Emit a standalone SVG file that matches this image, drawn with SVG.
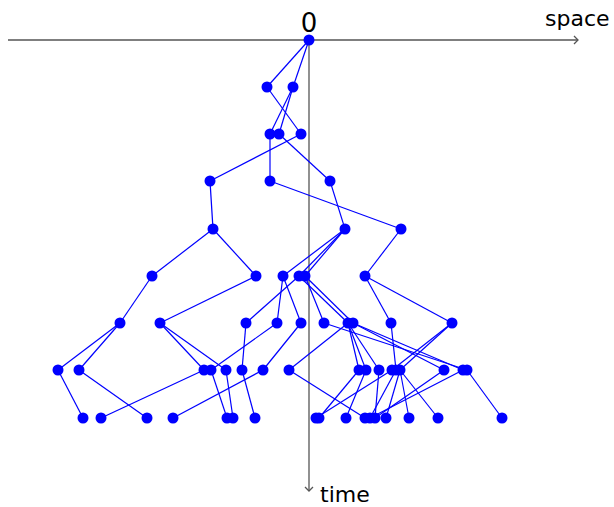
<svg xmlns="http://www.w3.org/2000/svg" width="614" height="507" viewBox="0 0 614 507">
<style>
.ax{stroke:#555;stroke-width:1.3;fill:none}
.e line{stroke:#0000ff;stroke-width:1.2}
.n circle{fill:#0000ff}
text{font-family:"DejaVu Sans","Liberation Sans",sans-serif;fill:#000}
</style>
<rect width="614" height="507" fill="#fff"/>
<g id="axes">
<line class="ax" x1="8" y1="40" x2="578" y2="40"/>
<path class="ax" d="M574,36 L578,40 L574,44"/>
<line class="ax" x1="309" y1="40" x2="309" y2="491"/>
<path class="ax" d="M305,487 L309,491 L313,487"/>
<text x="309" y="32" font-size="26" text-anchor="middle">0</text>
<text x="545" y="26" font-size="22">space</text>
<text x="320" y="502" font-size="22">time</text>
</g>
<g id="connectors" class="e">
<line x1="309" y1="40" x2="267" y2="87"/>
<line x1="309" y1="40" x2="293" y2="87"/>
<line x1="267" y1="87" x2="301" y2="134"/>
<line x1="293" y1="87" x2="270" y2="134"/>
<line x1="293" y1="87" x2="279" y2="134"/>
<line x1="301" y1="134" x2="210" y2="181"/>
<line x1="270" y1="134" x2="270" y2="181"/>
<line x1="279" y1="134" x2="330" y2="181"/>
<line x1="210" y1="181" x2="213" y2="229"/>
<line x1="270" y1="181" x2="401" y2="229"/>
<line x1="330" y1="181" x2="345" y2="229"/>
<line x1="213" y1="229" x2="152" y2="276"/>
<line x1="213" y1="229" x2="256" y2="276"/>
<line x1="345" y1="229" x2="283" y2="276"/>
<line x1="345" y1="229" x2="299" y2="276"/>
<line x1="345" y1="229" x2="305" y2="276"/>
<line x1="401" y1="229" x2="365" y2="276"/>
<line x1="152" y1="276" x2="120" y2="323"/>
<line x1="256" y1="276" x2="160" y2="323"/>
<line x1="283" y1="276" x2="277" y2="323"/>
<line x1="283" y1="276" x2="301" y2="323"/>
<line x1="299" y1="276" x2="246" y2="323"/>
<line x1="299" y1="276" x2="348" y2="323"/>
<line x1="305" y1="276" x2="324" y2="323"/>
<line x1="305" y1="276" x2="353" y2="323"/>
<line x1="365" y1="276" x2="391" y2="323"/>
<line x1="365" y1="276" x2="452" y2="323"/>
<line x1="120" y1="323" x2="58" y2="370"/>
<line x1="120" y1="323" x2="79" y2="370"/>
<line x1="160" y1="323" x2="204" y2="370"/>
<line x1="160" y1="323" x2="226" y2="370"/>
<line x1="277" y1="323" x2="211" y2="370"/>
<line x1="246" y1="323" x2="242" y2="370"/>
<line x1="301" y1="323" x2="263" y2="370"/>
<line x1="348" y1="323" x2="289" y2="370"/>
<line x1="348" y1="323" x2="359" y2="370"/>
<line x1="348" y1="323" x2="366" y2="370"/>
<line x1="348" y1="323" x2="379" y2="370"/>
<line x1="353" y1="323" x2="444" y2="370"/>
<line x1="353" y1="323" x2="463" y2="370"/>
<line x1="324" y1="323" x2="467" y2="370"/>
<line x1="391" y1="323" x2="396" y2="370"/>
<line x1="452" y1="323" x2="392" y2="370"/>
<line x1="452" y1="323" x2="400" y2="370"/>
<line x1="58" y1="370" x2="83" y2="418"/>
<line x1="79" y1="370" x2="147" y2="418"/>
<line x1="204" y1="370" x2="101" y2="418"/>
<line x1="211" y1="370" x2="227" y2="418"/>
<line x1="226" y1="370" x2="233" y2="418"/>
<line x1="242" y1="370" x2="255" y2="418"/>
<line x1="263" y1="370" x2="173" y2="418"/>
<line x1="289" y1="370" x2="365" y2="418"/>
<line x1="359" y1="370" x2="319" y2="418"/>
<line x1="366" y1="370" x2="346" y2="418"/>
<line x1="379" y1="370" x2="375" y2="418"/>
<line x1="392" y1="370" x2="316" y2="418"/>
<line x1="396" y1="370" x2="370" y2="418"/>
<line x1="400" y1="370" x2="386" y2="418"/>
<line x1="400" y1="370" x2="409" y2="418"/>
<line x1="400" y1="370" x2="438" y2="418"/>
<line x1="444" y1="370" x2="375" y2="418"/>
<line x1="463" y1="370" x2="370" y2="418"/>
<line x1="467" y1="370" x2="502" y2="418"/>
</g>
<g class="n">
<g id="n0"><circle cx="309" cy="40" r="5.5"/></g>
<g id="n1a"><circle cx="267" cy="87" r="5.5"/></g>
<g id="n1b"><circle cx="293" cy="87" r="5.5"/></g>
<g id="n2a"><circle cx="270" cy="134" r="5.5"/></g>
<g id="n2b"><circle cx="279" cy="134" r="5.5"/></g>
<g id="n2c"><circle cx="301" cy="134" r="5.5"/></g>
<g id="n3a"><circle cx="210" cy="181" r="5.5"/></g>
<g id="n3b"><circle cx="270" cy="181" r="5.5"/></g>
<g id="n3c"><circle cx="330" cy="181" r="5.5"/></g>
<g id="n4a"><circle cx="213" cy="229" r="5.5"/></g>
<g id="n4b"><circle cx="345" cy="229" r="5.5"/></g>
<g id="n4c"><circle cx="401" cy="229" r="5.5"/></g>
<g id="n5a"><circle cx="152" cy="276" r="5.5"/></g>
<g id="n5b"><circle cx="256" cy="276" r="5.5"/></g>
<g id="n5c"><circle cx="283" cy="276" r="5.5"/></g>
<g id="n5d"><circle cx="299" cy="276" r="5.5"/></g>
<g id="n5e"><circle cx="305" cy="276" r="5.5"/></g>
<g id="n5f"><circle cx="365" cy="276" r="5.5"/></g>
<g id="n6a"><circle cx="120" cy="323" r="5.5"/></g>
<g id="n6b"><circle cx="160" cy="323" r="5.5"/></g>
<g id="n6c"><circle cx="246" cy="323" r="5.5"/></g>
<g id="n6d"><circle cx="277" cy="323" r="5.5"/></g>
<g id="n6e"><circle cx="301" cy="323" r="5.5"/></g>
<g id="n6f"><circle cx="324" cy="323" r="5.5"/></g>
<g id="n6g"><circle cx="348" cy="323" r="5.5"/></g>
<g id="n6h"><circle cx="353" cy="323" r="5.5"/></g>
<g id="n6i"><circle cx="391" cy="323" r="5.5"/></g>
<g id="n6j"><circle cx="452" cy="323" r="5.5"/></g>
<g id="n7a"><circle cx="58" cy="370" r="5.5"/></g>
<g id="n7b"><circle cx="79" cy="370" r="5.5"/></g>
<g id="n7c"><circle cx="204" cy="370" r="5.5"/></g>
<g id="n7d"><circle cx="211" cy="370" r="5.5"/></g>
<g id="n7e"><circle cx="226" cy="370" r="5.5"/></g>
<g id="n7f"><circle cx="242" cy="370" r="5.5"/></g>
<g id="n7g"><circle cx="263" cy="370" r="5.5"/></g>
<g id="n7h"><circle cx="289" cy="370" r="5.5"/></g>
<g id="n7i"><circle cx="359" cy="370" r="5.5"/></g>
<g id="n7j"><circle cx="366" cy="370" r="5.5"/></g>
<g id="n7k"><circle cx="379" cy="370" r="5.5"/></g>
<g id="n7l"><circle cx="392" cy="370" r="5.5"/></g>
<g id="n7m"><circle cx="396" cy="370" r="5.5"/></g>
<g id="n7n"><circle cx="400" cy="370" r="5.5"/></g>
<g id="n7o"><circle cx="444" cy="370" r="5.5"/></g>
<g id="n7p"><circle cx="463" cy="370" r="5.5"/></g>
<g id="n7q"><circle cx="467" cy="370" r="5.5"/></g>
<g id="n8a"><circle cx="83" cy="418" r="5.5"/></g>
<g id="n8b"><circle cx="101" cy="418" r="5.5"/></g>
<g id="n8c"><circle cx="147" cy="418" r="5.5"/></g>
<g id="n8d"><circle cx="173" cy="418" r="5.5"/></g>
<g id="n8e"><circle cx="227" cy="418" r="5.5"/></g>
<g id="n8f"><circle cx="233" cy="418" r="5.5"/></g>
<g id="n8g"><circle cx="255" cy="418" r="5.5"/></g>
<g id="n8h"><circle cx="316" cy="418" r="5.5"/></g>
<g id="n8i"><circle cx="319" cy="418" r="5.5"/></g>
<g id="n8j"><circle cx="346" cy="418" r="5.5"/></g>
<g id="n8k"><circle cx="365" cy="418" r="5.5"/></g>
<g id="n8l"><circle cx="370" cy="418" r="5.5"/></g>
<g id="n8m"><circle cx="375" cy="418" r="5.5"/></g>
<g id="n8n"><circle cx="386" cy="418" r="5.5"/></g>
<g id="n8o"><circle cx="409" cy="418" r="5.5"/></g>
<g id="n8p"><circle cx="438" cy="418" r="5.5"/></g>
<g id="n8q"><circle cx="502" cy="418" r="5.5"/></g>
</g>
</svg>
